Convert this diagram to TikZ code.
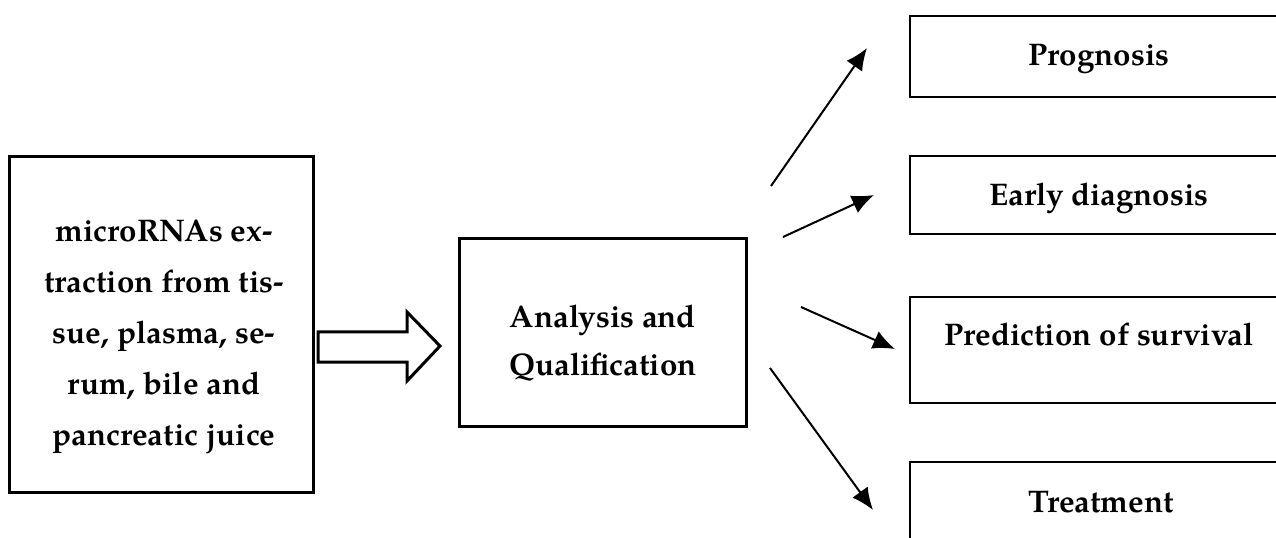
\documentclass[tikz,border=0pt]{standalone}
\usepackage{fontspec}
\setmainfont{TeX Gyre Pagella}
\usetikzlibrary{arrows.meta}
\tikzset{
  boxthick/.style={draw, line width=1.5bp, inner sep=0pt},
  boxthin/.style={draw, line width=1bp, inner sep=0pt, minimum width=189bp},
  lbl/.style={font=\bfseries\fontsize{15.7}{25.5}\selectfont, inner sep=0pt, align=center},
  link/.style={line width=1bp, -{Latex[length=11bp,width=9.5bp]}}
}
\begin{document}
\begin{tikzpicture}[x=0.5bp,y=-0.5bp]
\useasboundingbox (0,0) rectangle (1276,538);
\clip (0,0) rectangle (1276,538);
% left box
\node[boxthick, minimum width=151.5bp, minimum height=167.5bp] (src) at (161.5,324.5) {};
\node[lbl] (srct) at (164,337) {microRNAs ex-\\traction from tis-\\sue, plasma, se-\\rum, bile and\\pancreatic juice};
% middle box
\node[boxthick, minimum width=143.5bp, minimum height=93.5bp] (ana) at (602.5,332.5) {};
\node[lbl, font=\bfseries\fontsize{15.7}{24}\selectfont] (anat) at (603,343) {Analysis and\\Qualification};
% block arrow
\draw[line width=1.5bp, fill=white] (318,332) -- (407,332) -- (407,312) -- (440,346) -- (407,381) -- (407,362) -- (318,362) -- cycle;
% right boxes
\node[boxthin, minimum height=40.5bp] (prog) at (1099,56.5) {};
\node[boxthin, minimum height=39bp] (early) at (1099,195) {};
\node[boxthin, minimum height=53bp] (pred) at (1099,350) {};
\node[boxthin, minimum height=55bp] (treat) at (1099,517) {};
\node[lbl, anchor=base] (progt) at (1099,66) {Prognosis};
\node[lbl, anchor=base] (earlyt) at (1099,206) {Early diagnosis};
\node[lbl, anchor=base] (predt) at (1099,345) {Prediction of survival};
\node[lbl, anchor=base] (treatt) at (1101,512) {Treatment};
% arrow coordinates
\coordinate (a1s) at (771,186); \coordinate (a1e) at (867,48);
\coordinate (a2s) at (783,237); \coordinate (a2e) at (874,195);
\coordinate (a3s) at (801,307); \coordinate (a3e) at (895,349);
\coordinate (a4s) at (770,368); \coordinate (a4e) at (873,510);
\draw[link] (a1s) -- (a1e);
\draw[link] (a2s) -- (a2e);
\draw[link] (a3s) -- (a3e);
\draw[link] (a4s) -- (a4e);
\end{tikzpicture}
\end{document}
